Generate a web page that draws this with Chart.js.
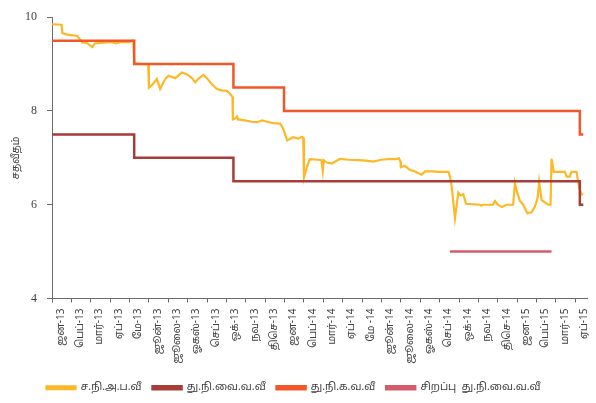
<!DOCTYPE html>
<html>
<head>
<meta charset="utf-8">
<script src="https://cdn.jsdelivr.net/npm/chart.js@4/dist/chart.umd.min.js"></script>
<style>
  html, body { margin: 0; padding: 0; background: #fff; }
  #wrap { width: 596px; height: 403px; }
</style>
</head>
<body>
<div id="wrap"><canvas id="rateChart"></canvas></div>
<script>
// month labels, one per month from Jan 2013
const monthLabels = ['ஜன-13', 'பெப்-13', 'மார்-13', 'ஏப்-13', 'மே-13', 'ஜூன்-13', 'ஜூலை-13', 'ஓகஸ்-13',
    'செப்-13', 'ஒக்-13', 'நவ-13', 'திசெ-13', 'ஜன-14', 'பெப்-14', 'மார்-14', 'ஏப்-14', 'மே -14', 'ஜூன்-14',
    'ஜூலை-14', 'ஓகஸ்-14', 'செப்-14', 'ஒக்-14', 'நவ-14', 'திசெ-14', 'ஜன-15', 'பெப்-15', 'மார்-15', 'ஏப்-15'];

const seriesNames = ['ச.நி.அ.ப.வீ', 'து.நி.வை.வ.வீ', 'து.நி.க.வ.வீ', 'சிறப்பு  து.நி.வை.வ.வீ'];
const yTicks = [4, 6, 8, 10];

// call money rate: x in months since 1 Jan 2013, y in percent
const callX = [0, 0.5, 0.53, 0.8, 1.3, 1.56, 1.8, 2.08, 2.2, 2.5, 3.0, 3.3, 3.6, 4.0, 4.14, 4.19,
    4.25, 4.6, 4.96, 5.0, 5.15, 5.41, 5.58, 5.84, 6.01, 6.36, 6.7, 6.96, 7.22, 7.39, 7.56, 7.81, 7.99,
    8.25, 8.51, 8.76, 9.02, 9.19, 9.31, 9.33, 9.45, 9.55, 9.6, 9.96, 10.3, 10.58, 10.84, 11.1, 11.4,
    11.77, 11.93, 12.13, 12.44, 12.7, 12.9, 12.96, 13.0, 13.16, 13.3, 13.73, 13.9, 13.97, 14.02, 14.19,
    14.43, 14.86, 15.3, 15.8, 16.2, 16.56, 17.0, 17.44, 17.7, 17.9, 17.97, 18.0, 18.21, 18.47, 18.73,
    18.9, 19.07, 19.24, 19.6, 20.0, 20.45, 20.53, 20.62, 20.79, 20.96, 21.08, 21.22, 21.36, 22.08,
    22.16, 22.23, 22.75, 22.85, 23.0, 23.2, 23.45, 23.79, 23.88, 23.97, 24.14, 24.31, 24.52, 24.74,
    24.91, 25.05, 25.13, 25.26, 25.43, 25.6, 25.72, 25.77, 25.89, 26.46, 26.55, 26.72, 26.8, 27.06,
    27.2, 27.32, 27.41];
const callY = [9.85, 9.84, 9.66, 9.63, 9.6, 9.46, 9.45, 9.36, 9.44, 9.45, 9.47, 9.44, 9.47, 9.47, 9.5, 9.5,
    9.02, 9.0, 9.0, 8.5, 8.55, 8.68, 8.47, 8.68, 8.75, 8.7, 8.82, 8.78, 8.7, 8.61, 8.69, 8.77, 8.7,
    8.57, 8.47, 8.44, 8.43, 8.36, 8.3, 7.82, 7.84, 7.88, 7.82, 7.8, 7.77, 7.76, 7.8, 7.77, 7.74,
    7.73, 7.62, 7.37, 7.44, 7.41, 7.45, 7.43, 6.58, 6.82, 6.97, 6.96, 6.95, 6.72, 6.95, 6.9,
    6.88, 6.98, 6.96, 6.95, 6.94, 6.92, 6.96, 6.98, 6.97, 6.99, 6.93, 6.8, 6.83, 6.74, 6.71,
    6.67, 6.64, 6.71, 6.71, 6.7, 6.7, 6.6, 6.38, 5.71, 6.26, 6.2, 6.22, 6.02, 6.0,
    5.98, 6.0, 6.0, 6.08, 6.0, 5.95, 6.0, 6.0, 6.46, 6.3, 6.08, 6.0, 5.82, 5.84,
    5.96, 6.14, 6.49, 6.1, 6.05, 6.0, 6.0, 6.98, 6.7, 6.7, 6.6, 6.6, 6.7, 6.7,
    6.35, 6.22, 6.22];

// policy rate changes (stepped)
const repoX = [0, 4.24, 9.36, 27.23, 27.41];
const repoY = [7.5, 7.0, 6.5, 6.0, 6.0];
const revRepoX = [0, 4.24, 9.36, 11.97, 27.23, 27.41];
const revRepoY = [9.5, 9.0, 8.5, 8.0, 7.5, 7.5];
const specialX = [20.53, 25.77];
const specialY = [5.0, 5.0];

const toPoints = (xs, ys) => xs.map((x, i) => ({ x: x, y: ys[i] }));

const tamilFont = "'Noto Sans Tamil', 'Lohit Tamil', 'Noto Sans', 'DejaVu Sans', sans-serif";
const axisColor = '#6b6b6b';

new Chart(document.getElementById('rateChart'), {
    type: 'line',
    data: {
        datasets: [
            { label: seriesNames[0], data: toPoints(callX, callY), borderColor: '#fdb827', backgroundColor: '#fdb827', borderWidth: 2.2, order: 3 },
            { label: seriesNames[1], data: toPoints(repoX, repoY), borderColor: '#a63d36', backgroundColor: '#a63d36', borderWidth: 2.5, stepped: true, order: 2 },
            { label: seriesNames[2], data: toPoints(revRepoX, revRepoY), borderColor: '#f2572a', backgroundColor: '#f2572a', borderWidth: 2.5, stepped: true, order: 1 },
            { label: seriesNames[3], data: toPoints(specialX, specialY), borderColor: '#d25c68', backgroundColor: '#d25c68', borderWidth: 2.5, order: 0 }
        ]
    },
    options: {
        responsive: true,
        maintainAspectRatio: false,
        animation: false,
        layout: { padding: { left: 0, right: 9, top: 16, bottom: 0 } },
        elements: { point: { radius: 0 }, line: { tension: 0 } },
        plugins: {
            tooltip: { enabled: false },
            legend: {
                position: 'bottom',
                labels: {
                    boxWidth: 29,
                    boxHeight: 3,
                    padding: 11,
                    color: '#404040',
                    font: { family: tamilFont, size: 10.5 },
                    sort: (a, b) => a.datasetIndex - b.datasetIndex
                }
            }
        },
        scales: {
            x: {
                type: 'linear',
                min: 0,
                max: 27.6,
                afterBuildTicks: scale => {
                    scale.ticks = monthLabels.map((l, i) => ({ value: i + 0.5 }));
                },
                afterFit: scale => {
                    scale.height = 73;
                    scale.paddingLeft = 0;
                    scale.paddingRight = 0;
                },
                ticks: {
                    autoSkip: false,
                    minRotation: 90,
                    maxRotation: 90,
                    padding: 6,
                    color: '#404040',
                    font: { family: tamilFont, size: 10 },
                    callback: (v, i) => monthLabels[i]
                },
                grid: { offset: true, drawOnChartArea: false, drawTicks: true, tickLength: 4, color: axisColor },
                border: { display: true, color: axisColor, width: 1 }
            },
            y: {
                min: 4,
                max: 10,
                afterBuildTicks: scale => {
                    scale.ticks = yTicks.map(v => ({ value: v }));
                },
                afterFit: scale => { scale.width = 52; },
                ticks: {
                    padding: 10,
                    color: '#404040',
                    font: { family: "'Liberation Serif', 'DejaVu Serif', serif", size: 12 }
                },
                title: {
                    display: true,
                    text: 'சதவீதம்',
                    color: '#404040',
                    font: { family: tamilFont, size: 10 },
                    padding: { top: 11, bottom: 0 }
                },
                grid: { drawOnChartArea: false, drawTicks: true, tickLength: 5, color: axisColor },
                border: { display: true, color: axisColor, width: 1 }
            }
        }
    }
});
</script>
</body>
</html>
